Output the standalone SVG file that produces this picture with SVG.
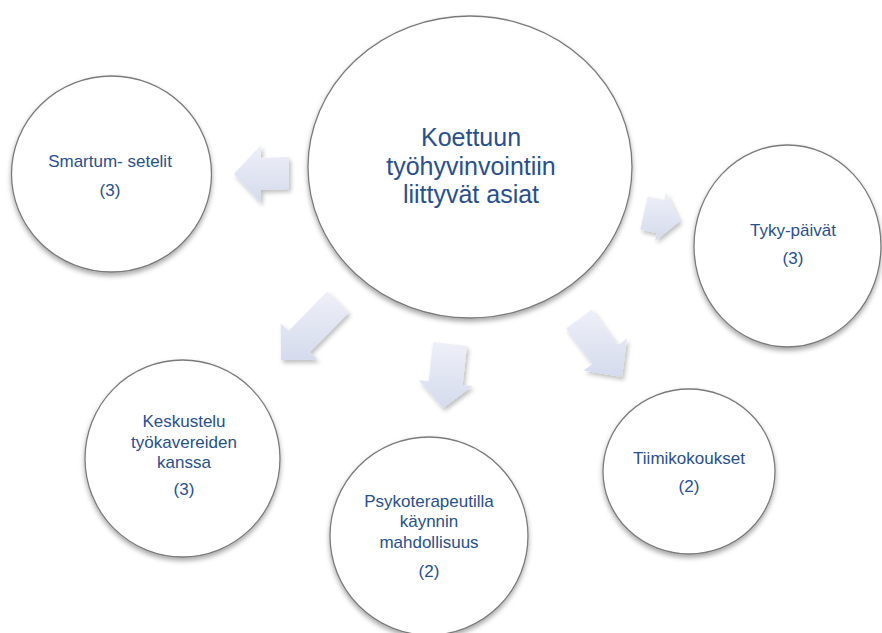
<svg xmlns="http://www.w3.org/2000/svg" width="882" height="633" viewBox="0 0 882 633">
<defs>
<filter id="cs" x="-20%" y="-20%" width="140%" height="150%">
<feDropShadow dx="0" dy="3" stdDeviation="2.5" flood-color="#000" flood-opacity="0.35"/>
</filter>
<filter id="as" x="-30%" y="-30%" width="160%" height="160%">
<feDropShadow dx="2" dy="3" stdDeviation="2" flood-color="#000" flood-opacity="0.25"/>
</filter>
<linearGradient id="ag" x1="0" y1="0" x2="0" y2="1">
<stop offset="0" stop-color="#eef0f8"/>
<stop offset="1" stop-color="#d5dbed"/>
</linearGradient>
</defs>
<style>
.c{fill:#fff;stroke:#7a7a7a;stroke-width:1.3;filter:url(#cs)}
.a{fill:url(#ag);stroke:none;filter:url(#as)}
text{font-family:"Liberation Sans",Arial,sans-serif;fill:#28508c;text-anchor:middle}
.s{font-size:17px}
.b{font-size:25px}
</style>
<rect width="882" height="633" fill="#fff"/>
<g id="connectors">
<polygon class="a" points="289,157 261,158 261,145 234,174 261,203 261,190 289,189"/>
<polygon class="a" points="327.3,291.5 288.5,331 280.7,323.3 281,360 317.7,359.7 309.9,352 348.7,312.5"/>
<polygon class="a" points="433.1,342.1 428.8,381.3 418.9,380.3 443,408 472.5,386.1 462.6,385.1 466.9,345.9"/>
<polygon class="a" points="566.2,328.5 592.5,364 583.6,370.6 622,377 627,338.4 618.1,345 591.8,309.5"/>
<polygon class="a" points="640.3,229.6 656.8,233.3 655.1,241.1 680,221 665.9,192.3 664.2,200.1 647.7,196.4"/>
</g>
<g id="center">
<ellipse class="c" cx="470" cy="167" rx="162" ry="151"/>
<text class="b" x="471" y="146">Koettuun</text>
<text class="b" x="471" y="175">työhyvinvointiin</text>
<text class="b" x="471" y="203">liittyvät asiat</text>
</g>
<g id="smartum">
<ellipse class="c" cx="111.5" cy="174" rx="100" ry="98"/>
<text class="s" x="110" y="167">Smartum- setelit</text>
<text class="s" x="110" y="196">(3)</text>
</g>
<g id="tyky">
<ellipse class="c" cx="787.5" cy="246" rx="93.5" ry="101"/>
<text class="s" x="793" y="236">Tyky-päivät</text>
<text class="s" x="793" y="264">(3)</text>
</g>
<g id="keskustelu">
<ellipse class="c" cx="182.5" cy="458.5" rx="97.5" ry="98.5"/>
<text class="s" x="184" y="427">Keskustelu</text>
<text class="s" x="184" y="448">työkavereiden</text>
<text class="s" x="184" y="468">kanssa</text>
<text class="s" x="184" y="495">(3)</text>
</g>
<g id="psykoterapeutti">
<ellipse class="c" cx="429" cy="536" rx="99" ry="99"/>
<text class="s" x="429" y="507">Psykoterapeutilla</text>
<text class="s" x="429" y="527">käynnin</text>
<text class="s" x="429" y="548">mahdollisuus</text>
<text class="s" x="429" y="577">(2)</text>
</g>
<g id="tiimikokoukset">
<ellipse class="c" cx="689" cy="471.5" rx="86" ry="82.5"/>
<text class="s" x="689" y="464">Tiimikokoukset</text>
<text class="s" x="689" y="492">(2)</text>
</g>
</svg>
